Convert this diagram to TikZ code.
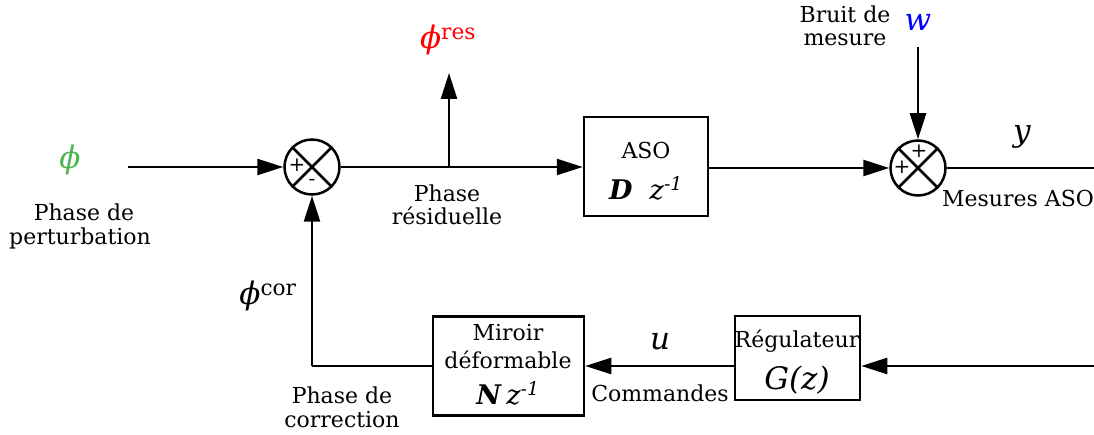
\documentclass[tikz,border=0pt]{standalone}
\usepackage{fontspec}
\setmainfont{DejaVu Serif}
\usetikzlibrary{arrows.meta}
\definecolor{phigreen}{RGB}{80,180,80}
\newcommand{\vphi}{\textit{ϕ}}
\tikzset{
  sumnode/.style={circle,draw,line width=2.5pt,minimum size=55pt,inner sep=0pt},
  blockbox/.style={draw,line width=2.5pt,inner sep=0pt},
  conn/.style={line width=2.5pt},
  arr/.style={line width=2.5pt,-{Triangle[length=26pt,width=16pt]}},
  lbl/.style={font=\fontsize{22}{26}\selectfont,align=center,inner sep=0pt},
  mlbl/.style={font=\fontsize{31}{32}\selectfont,inner sep=0pt},
  flbl/.style={font=\fontsize{27}{28}\selectfont,inner sep=0pt},
  sign/.style={font=\fontsize{20}{20}\selectfont,inner sep=0pt},
}
\begin{document}
\begin{tikzpicture}[x=1pt,y=-1pt]
\useasboundingbox (0,0) rectangle (1094,435);
% summing junctions
\node[sumnode] (s1) at (312,167) {};
\node[sumnode] (s2) at (918,168) {};
\draw[line width=2.5pt] (s1.north west) -- (s1.south east) (s1.north east) -- (s1.south west);
\draw[line width=2.5pt] (s2.north west) -- (s2.south east) (s2.north east) -- (s2.south west);
\node[sign] at (297,165) {+};
\node[sign] at (312,182) {-};
\node[sign] at (919,151) {+};
\node[sign] at (902,167) {+};
% blocks
\node[blockbox,minimum width=124pt,minimum height=99pt] (aso) at (646,166.5) {};
\node[blockbox,minimum width=125pt,minimum height=84pt] (reg) at (797.5,358) {};
\node[blockbox,minimum width=151pt,minimum height=99pt] (mir) at (508.5,366) {};
\node[lbl] at (646,150) {ASO};
\node[flbl] at (646,188) {\textbf{\textit{D}}\ \ \textit{z}\textsuperscript{\textit{-1}}};
\node[lbl] at (797,341) {Régulateur};
\node[mlbl] at (797,380) {\textit{G(z)}};
\node[lbl] at (508,333) {Miroir};
\node[lbl] at (508,360) {déformable};
\node[flbl] at (508,393) {\textbf{\textit{N}}\,\textit{z}\textsuperscript{\textit{-1}}};
% coordinates
\coordinate (in) at (128,167);
\coordinate (br) at (449,167);
\coordinate (brtop) at (449,73);
\coordinate (wtop) at (918,47);
\coordinate (out) at (1094,168);
\coordinate (fbin) at (1094,366);
\coordinate (corner) at (312,366);
% connectors
\draw[arr] (in) -- (s1);
\draw[arr] (s1) -- (aso.west |- s1);
\draw[arr] (br) -- (brtop);
\draw[arr] (aso.east |- s2) -- (s2);
\draw[arr] (wtop) -- (s2);
\draw[conn] (s2) -- (out);
\draw[arr] (fbin) -- (reg.east |- fbin);
\draw[arr] (reg.west |- fbin) -- (mir.east |- fbin);
\draw[conn] (mir.west |- fbin) -- (corner);
\draw[arr] (corner) -- (s1);
% labels
\node[mlbl,text=phigreen] at (70,160) {\vphi};
\node[lbl] at (84,212) {Phase de};
\node[lbl] at (80,238) {perturbation};
\node[lbl] at (447,193) {Phase};
\node[lbl] at (447,216) {résiduelle};
\node[mlbl,text=red] at (448,40) {\vphi\textsuperscript{res}};
\node[lbl] at (845,14) {Bruit de};
\node[lbl] at (845,40) {mesure};
\node[mlbl,text=blue] at (918,22) {\textit{w}};
\node[mlbl] at (1022,137) {\textit{y}};
\node[lbl] at (1018,198) {Mesures ASO};
\node[mlbl] at (660,342) {\textit{u}};
\node[lbl] at (660,393) {Commandes};
\node[mlbl] at (268,296) {\vphi\textsuperscript{cor}};
\node[lbl] at (342,395) {Phase de};
\node[lbl] at (342,420) {correction};
\end{tikzpicture}
\end{document}
